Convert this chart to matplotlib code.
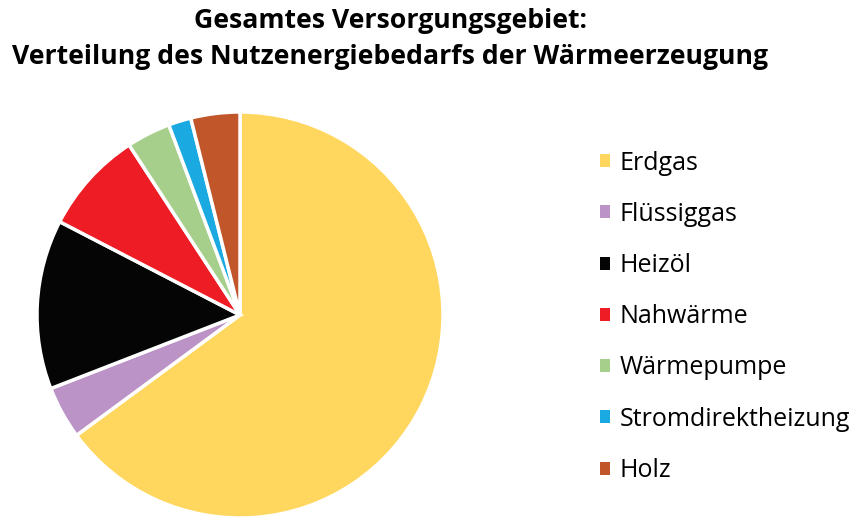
import matplotlib
matplotlib.use("Agg")
import matplotlib.pyplot as plt
from matplotlib.patches import Patch

labels = ["Erdgas", "Flüssiggas", "Heizöl", "Nahwärme", "Wärmepumpe", "Stromdirektheizung", "Holz"]
values = [64.9, 4.2, 13.5, 8.2, 3.5, 1.8, 3.9]
colors = ["#FFD75F", "#BC93C6", "#050505", "#EE1C25", "#A6CF8B", "#1BA9E1", "#C0562A"]
title = "Gesamtes Versorgungsgebiet:\nVerteilung des Nutzenergiebedarfs der Wärmeerzeugung"

plt.rcParams['font.family'] = ['Open Sans', 'DejaVu Sans']

W, H = 858, 517
fig = plt.figure(figsize=(W/100, H/100), dpi=100)
cx, cy, r = 240, 315, 203
ax = fig.add_axes([(cx - r)/W, (H - cy - r)/H, 2*r/W, 2*r/H])
ax.pie(values, colors=colors, startangle=90, counterclock=False, radius=1,
       wedgeprops=dict(edgecolor="white", linewidth=2.5))
ax.set_xlim(-1, 1)
ax.set_ylim(-1, 1)
ax.set_aspect("equal")
ax.axis("off")

fig.text(390/W, 1 - 39/H, title, ha="center", va="center", fontsize=19.2,
         fontweight="bold", linespacing=1.45)

handles = [Patch(facecolor=c, edgecolor="none") for c in colors]
fig.legend(handles, labels, loc="upper left", bbox_to_anchor=(577/W, 1 - 128/H),
           frameon=False, fontsize=18, handlelength=0.42, handleheight=0.42,
           handletextpad=0.4, labelspacing=1.05)

fig.savefig("out.png", dpi=100)
